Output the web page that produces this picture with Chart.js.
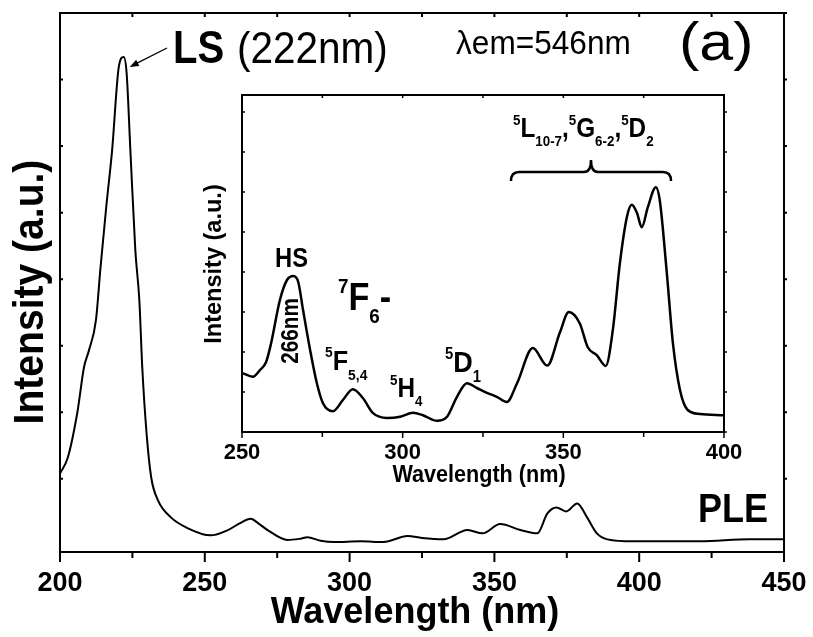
<!DOCTYPE html>
<html>
<head>
<meta charset="utf-8">
<script src="https://cdn.jsdelivr.net/npm/chart.js@4/dist/chart.umd.min.js"></script>
<style>
  html, body { margin: 0; padding: 0; background: #fff; }
  #wrap { position: relative; width: 813px; height: 637px; }
  #mainChart { position: absolute; left: 0; top: 0; }
  #insetChart { position: absolute; left: 190px; top: 80px; }
</style>
</head>
<body>
<div id="wrap">
  <canvas id="mainChart" width="813" height="637"></canvas>
  <canvas id="insetChart" width="560" height="420"></canvas>
</div>
<script>
// PLE spectrum, full range (nm / a.u.)
const mainWavelength = [200, 202.7, 206, 208.3, 210, 212.4, 214, 216, 218, 220.3, 222, 223, 224.3, 226, 227.4,
  228.4, 229.9, 231.5, 233.8, 238.3, 244, 252, 258, 262, 265.9, 268.5, 271.7, 278.6, 283, 285.4, 290,
  294.5, 303.8, 311.7, 320, 325, 332.4, 340.7, 345.9, 352, 359, 364.8, 368.3, 371.4, 374.8, 378.6,
  382, 385.4, 389, 398, 421, 438, 450];
const mainIntensity = [1.08, 1.32, 2.0, 2.68, 2.93, 3.38, 4.18, 5.1, 5.94, 7.19, 7.34, 7.1, 5.94, 4.44, 3.68,
  2.68, 1.68, 1.02, 0.68, 0.42, 0.26, 0.15, 0.23, 0.33, 0.40, 0.33, 0.23, 0.08, 0.10, 0.12, 0.07,
  0.05, 0.06, 0.05, 0.14, 0.11, 0.09, 0.23, 0.18, 0.32, 0.23, 0.18, 0.48, 0.57, 0.51, 0.63,
  0.42, 0.18, 0.09, 0.06, 0.06, 0.09, 0.09];

// zoomed 250-400 nm region
const insetWavelength = [250, 253.4, 255.6, 257.5, 259, 261.8, 264, 266, 267.5, 269, 271.2, 273.3, 275.2,
  278.3, 281.4, 284.5, 287.6, 290.8, 295.1, 299.2, 303.2, 306.3, 310.7, 313.8, 316.9, 320, 323.1,
  326.2, 329.3, 332.4, 335.6, 340.5, 345, 348.9, 351.7, 355.1, 357.6, 360.4, 363.2, 365.4, 367.6,
  369.8, 371.3, 372.9, 374.4, 376.3, 378.8, 380, 382.2, 384.1, 386.3, 388.7, 392.5, 400];
const insetIntensity = [1.48, 1.38, 1.55, 1.75, 2.2, 3.3, 3.8, 3.9, 3.75, 3.05, 2.05, 1.22, 0.72,
  0.52, 0.8, 1.07, 0.85, 0.47, 0.35, 0.38, 0.48, 0.42, 0.28, 0.38, 0.88, 1.22, 1.1,
  0.98, 0.88, 0.75, 1.22, 2.1, 1.66, 2.48, 3.0, 2.72, 2.12, 1.92, 1.65, 2.55, 4.22,
  5.38, 5.68, 5.48, 5.12, 5.62, 6.12, 5.8, 3.98, 2.22, 1.05, 0.55, 0.45, 0.42];

const mainXTicks = [200, 250, 300, 350, 400, 450];
const insetXTicks = [250, 300, 350, 400];

const FONT = '"Liberation Sans", Arial, Helvetica, sans-serif';
Chart.defaults.font.family = FONT;
Chart.defaults.color = '#000';

const INSET_LEFT = 190, INSET_TOP = 80;

function toPoints(xs, ys) {
  return xs.map((x, i) => ({ x: x, y: ys[i] }));
}

// text drawn with a slight horizontal squeeze; parts = [[text, 'sup'|'sub'|''], ...]
function richText(ctx, x, y, parts, size, sx, weight) {
  ctx.save();
  ctx.translate(x, y);
  ctx.scale(sx, 1);
  ctx.fillStyle = '#000';
  ctx.textBaseline = 'alphabetic';
  ctx.textAlign = 'left';
  let cx = 0;
  parts.forEach(([txt, kind]) => {
    const s = kind ? size * 0.55 : size;
    ctx.font = `${weight || 'bold'} ${s}px ${FONT}`;
    const dy = kind === 'sup' ? -size * 0.45 : kind === 'sub' ? size * 0.34 : 0;
    ctx.fillText(txt, cx, dy);
    cx += ctx.measureText(txt).width;
  });
  ctx.restore();
}

// vertical text, reading bottom to top; (x, y) = baseline, centre
function vText(ctx, x, y, txt, size, sx) {
  ctx.save();
  ctx.translate(x, y);
  ctx.rotate(-Math.PI / 2);
  ctx.scale(sx, 1);
  ctx.font = `bold ${size}px ${FONT}`;
  ctx.fillStyle = '#000';
  ctx.textAlign = 'center';
  ctx.textBaseline = 'alphabetic';
  ctx.fillText(txt, 0, 0);
  ctx.restore();
}

function hText(ctx, x, y, txt, size, sx, weight, align) {
  ctx.save();
  ctx.translate(x, y);
  ctx.scale(sx, 1);
  ctx.font = `${weight} ${size}px ${FONT}`;
  ctx.fillStyle = '#000';
  ctx.textAlign = align || 'left';
  ctx.textBaseline = 'alphabetic';
  ctx.fillText(txt, 0, 0);
  ctx.restore();
}

// box frame plus tick marks, placed from the chart's own scales
const framePlugin = {
  id: 'frame',
  afterDatasetsDraw(chart, args, o) {
    const { ctx, chartArea: a, scales: { x, y } } = chart;
    ctx.save();
    ctx.strokeStyle = '#000';
    ctx.lineWidth = o.lineWidth;
    ctx.strokeRect(a.left, a.top, a.right - a.left, a.bottom - a.top);
    ctx.lineWidth = o.tickWidth;
    ctx.beginPath();
    x.ticks.forEach(t => {
      const px = x.getPixelForValue(t.value);
      const major = t.value % 50 === 0;
      ctx.moveTo(px, a.bottom);
      ctx.lineTo(px, a.bottom + (major ? o.major : o.minor));
      ctx.moveTo(px, a.top);
      ctx.lineTo(px, a.top + o.topTick);
    });
    y.ticks.forEach(t => {
      if (!Number.isInteger(t.value) || t.value < 0) return;
      const py = y.getPixelForValue(t.value);
      ctx.moveTo(a.left, py);
      ctx.lineTo(a.left + o.yTick, py);
      ctx.moveTo(a.right, py);
      ctx.lineTo(a.right + o.yTick, py);
    });
    ctx.stroke();
    ctx.restore();
  }
};

const mainNotes = {
  id: 'mainNotes',
  afterDraw(chart) {
    const { ctx, scales: { x, y } } = chart;
    vText(ctx, 43, 292, 'Intensity (a.u.)', 42, 0.93);
    hText(ctx, 415, 623, 'Wavelength (nm)', 36, 1.0, 'bold', 'center');

    richText(ctx, 173, 63, [['LS', '']], 46, 0.87);
    hText(ctx, 237, 63, '(222nm)', 45, 0.9, 'normal');
    hText(ctx, 456, 54, 'λem=546nm', 34, 0.93, 'normal');
    hText(ctx, 679, 60, '(a)', 53, 1.15, 'normal');
    richText(ctx, 698, 522, [['PLE', '']], 40, 0.9);

    // arrow pointing at the LS peak
    const tipX = x.getPixelForValue(222) + 6;
    const tipY = y.getPixelForValue(7.34) + 10;
    const sx = 167, sy = 48;
    const ang = Math.atan2(tipY - sy, tipX - sx);
    ctx.save();
    ctx.strokeStyle = '#000';
    ctx.fillStyle = '#000';
    ctx.lineWidth = 1.3;
    ctx.beginPath();
    ctx.moveTo(sx, sy);
    ctx.lineTo(tipX - 6 * Math.cos(ang), tipY - 6 * Math.sin(ang));
    ctx.stroke();
    ctx.beginPath();
    ctx.moveTo(tipX, tipY);
    ctx.lineTo(tipX - 9 * Math.cos(ang) + 3.5 * Math.sin(ang), tipY - 9 * Math.sin(ang) - 3.5 * Math.cos(ang));
    ctx.lineTo(tipX - 9 * Math.cos(ang) - 3.5 * Math.sin(ang), tipY - 9 * Math.sin(ang) + 3.5 * Math.cos(ang));
    ctx.closePath();
    ctx.fill();
    ctx.restore();
  }
};

const insetNotes = {
  id: 'insetNotes',
  afterDraw(chart) {
    const ctx = chart.ctx;
    ctx.save();
    ctx.translate(-INSET_LEFT, -INSET_TOP);
    vText(ctx, 221, 264, 'Intensity (a.u.)', 24, 0.98);
    hText(ctx, 479, 482, 'Wavelength (nm)', 24, 0.9, 'bold', 'center');

    richText(ctx, 275, 267, [['HS', '']], 27, 0.88);
    vText(ctx, 298, 331, '266nm', 23, 0.9);
    richText(ctx, 338, 310, [['7', 'sup'], ['F', ''], ['6', 'sub'], ['-', '']], 38, 0.9);
    richText(ctx, 325, 370, [['5', 'sup'], ['F', ''], ['5,4', 'sub']], 28, 0.9);
    richText(ctx, 390, 397, [['5', 'sup'], ['H', ''], ['4', 'sub']], 27, 0.9);
    richText(ctx, 445, 372, [['5', 'sup'], ['D', ''], ['1', 'sub']], 30, 0.9);
    richText(ctx, 513, 137, [['5', 'sup'], ['L', ''], ['10-7', 'sub'], [',', ''], ['5', 'sup'], ['G', ''],
      ['6-2', 'sub'], [',', ''], ['5', 'sup'], ['D', ''], ['2', 'sub']], 27, 0.9);

    // brace over the 5L/5G/5D group
    ctx.strokeStyle = '#000';
    ctx.lineWidth = 2.5;
    ctx.beginPath();
    ctx.moveTo(511, 181);
    ctx.quadraticCurveTo(511, 172, 519, 172);
    ctx.lineTo(584, 172);
    ctx.quadraticCurveTo(591, 172, 591, 160);
    ctx.quadraticCurveTo(591, 172, 598, 172);
    ctx.lineTo(663, 172);
    ctx.quadraticCurveTo(671, 172, 671, 181);
    ctx.stroke();
    ctx.restore();
  }
};

// keeps the edge tick labels from pushing the plot area inwards
function fixHeight(h) {
  return s => { s.height = h; s.paddingLeft = 0; s.paddingRight = 0; };
}

new Chart(document.getElementById('mainChart'), {
  type: 'line',
  data: {
    datasets: [{
      data: toPoints(mainWavelength, mainIntensity),
      borderColor: '#000',
      borderWidth: 2,
      pointRadius: 0,
      cubicInterpolationMode: 'monotone',
      fill: false
    }]
  },
  options: {
    responsive: false,
    animation: false,
    layout: { padding: { top: 13, right: 29, left: 0, bottom: 0 } },
    plugins: {
      legend: { display: false },
      tooltip: { enabled: false },
      frame: { lineWidth: 2, tickWidth: 2, major: 10, minor: 6, topTick: 4, yTick: 3 }
    },
    scales: {
      x: {
        type: 'linear', min: 200, max: 450,
        grid: { display: false }, border: { display: false },
        ticks: {
          stepSize: 25, autoSkip: false, maxRotation: 0, padding: 7,
          font: { size: 27, weight: 'bold' },
          callback: v => mainXTicks.includes(v) ? v : ''
        },
        afterFit: fixHeight(85)
      },
      y: {
        min: -0.1, max: 8,
        grid: { display: false }, border: { display: false },
        ticks: { display: false, stepSize: 1 },
        afterFit: s => { s.width = 60; }
      }
    }
  },
  plugins: [framePlugin, mainNotes]
});

new Chart(document.getElementById('insetChart'), {
  type: 'line',
  data: {
    datasets: [{
      data: toPoints(insetWavelength, insetIntensity),
      borderColor: '#000',
      borderWidth: 2.5,
      pointRadius: 0,
      cubicInterpolationMode: 'monotone',
      fill: false
    }]
  },
  options: {
    responsive: false,
    animation: false,
    layout: { padding: { top: 15, right: 26, left: 0, bottom: 0 } },
    plugins: {
      legend: { display: false },
      tooltip: { enabled: false },
      frame: { lineWidth: 2, tickWidth: 1.5, major: 6, minor: 5, topTick: 3, yTick: 3 }
    },
    scales: {
      x: {
        type: 'linear', min: 250, max: 400,
        grid: { display: false }, border: { display: false },
        ticks: {
          stepSize: 25, autoSkip: false, maxRotation: 0, padding: 0,
          font: { size: 22, weight: 'bold' },
          callback: v => insetXTicks.includes(v) ? v : ''
        },
        afterFit: fixHeight(68)
      },
      y: {
        min: 0, max: 8.425,
        grid: { display: false }, border: { display: false },
        ticks: { display: false, stepSize: 1 },
        afterFit: s => { s.width = 52; }
      }
    }
  },
  plugins: [framePlugin, insetNotes]
});
</script>
</body>
</html>
